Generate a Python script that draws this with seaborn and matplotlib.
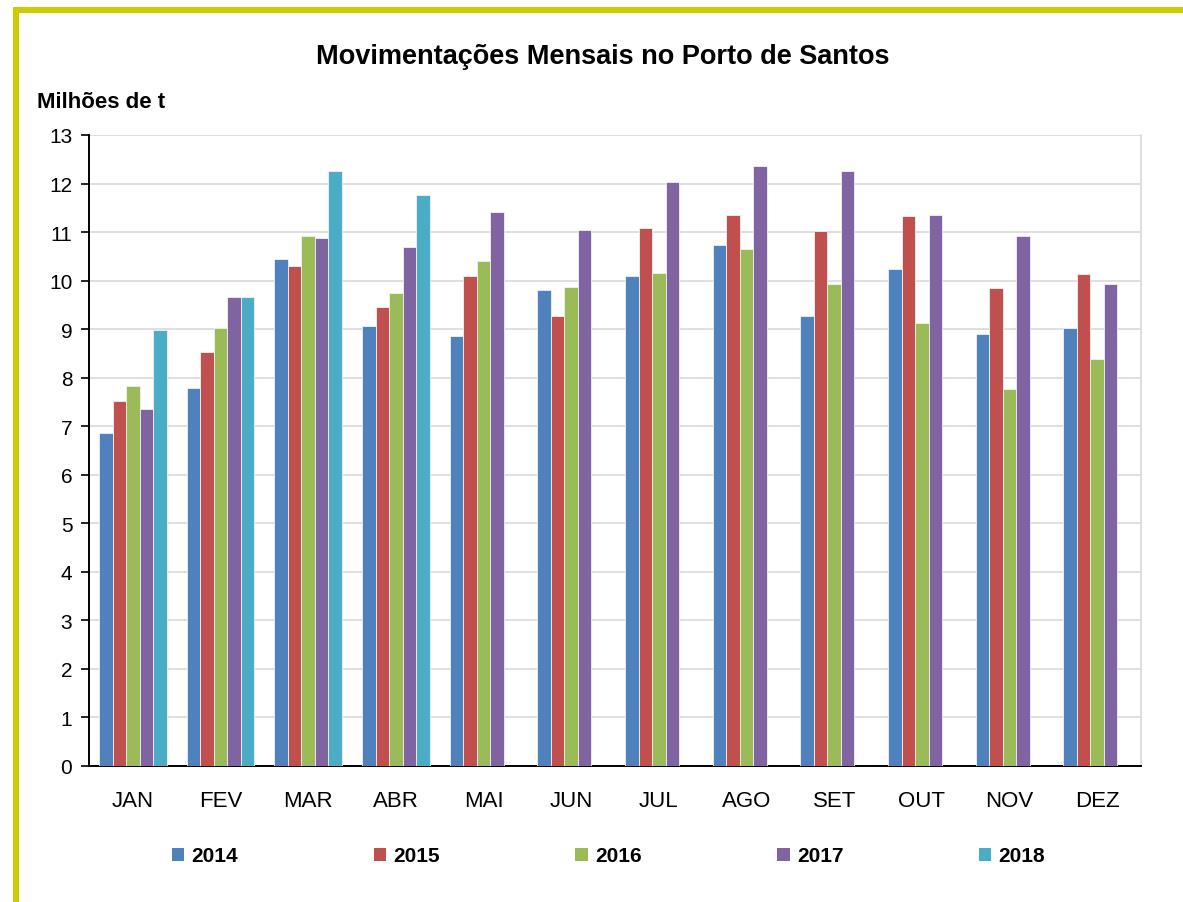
import matplotlib
matplotlib.use("Agg")
import matplotlib.pyplot as plt
import seaborn as sns
import pandas as pd
import numpy as np
from matplotlib.patches import Rectangle, Patch

months = ["JAN", "FEV", "MAR", "ABR", "MAI", "JUN", "JUL", "AGO", "SET", "OUT", "NOV", "DEZ"]
years = ["2014", "2015", "2016", "2017", "2018"]
v2014 = [6.87, 7.78, 10.45, 9.07, 8.85, 9.81, 10.10, 10.73, 9.28, 10.24, 8.89, 9.02]
v2015 = [7.51, 8.53, 10.30, 9.46, 10.10, 9.28, 11.09, 11.36, 11.02, 11.33, 9.85, 10.13]
v2016 = [7.82, 9.02, 10.91, 9.74, 10.41, 9.87, 10.16, 10.66, 9.92, 9.13, 7.76, 8.39]
v2017 = [7.36, 9.67, 10.87, 10.70, 11.41, 11.05, 12.04, 12.36, 12.25, 11.36, 10.91, 9.92]
v2018 = [8.99, 9.67, 12.25, 11.76]
colors = ["#4F81BD", "#C0504D", "#9BBB59", "#8064A2", "#4BACC6"]
yticks = list(range(0, 14))

rows = []
for yr, vals in zip(years, [v2014, v2015, v2016, v2017, v2018]):
    for m, v in zip(months, vals):
        rows.append({"Mes": m, "Ano": yr, "Valor": v})
df = pd.DataFrame(rows)

sns.set_style("white")
plt.rcParams["font.family"] = ["Liberation Sans", "DejaVu Sans"]
plt.rcParams["text.color"] = "black"
plt.rcParams["xtick.color"] = "black"
plt.rcParams["ytick.color"] = "black"
plt.rcParams["axes.labelcolor"] = "black"

fig = plt.figure(figsize=(11.83, 9.03), dpi=100)
ax = fig.add_axes([89 / 1183, 1 - 767 / 903, (1141 - 89) / 1183, (767 - 136) / 903])

sns.barplot(data=df, x="Mes", y="Valor", hue="Ano", order=months, hue_order=years,
            palette=colors, saturation=1, errorbar=None, width=0.77, dodge=True, ax=ax,
            edgecolor="#F2F2F2", linewidth=0.6, legend=False, zorder=3)

ax.set_ylim(0, 13)
ax.set_xlim(-0.5, 11.5)
ax.set_yticks(yticks)
ax.set_yticklabels([str(t) for t in yticks], fontsize=15)
ax.yaxis.grid(True, color="#D9D9D9", linewidth=1.2, zorder=0)
ax.set_axisbelow(True)
ax.set_xlabel("")
ax.set_ylabel("")

ax.set_xticks(range(12))
ax.set_xticklabels(months, fontsize=16)
ax.set_xticks(np.arange(-0.5, 12, 1), minor=True)
ax.tick_params(axis="x", which="major", length=0, pad=17)
ax.tick_params(axis="x", which="minor", length=6, width=1.2, color="black", direction="out")
ax.tick_params(axis="y", which="major", length=6, width=1.2, color="black", direction="out", pad=6, left=True)

for s in ["left", "bottom"]:
    ax.spines[s].set_color("black")
    ax.spines[s].set_linewidth(1.4)
ax.spines["right"].set_color("#D9D9D9")
ax.spines["right"].set_linewidth(1.2)
ax.spines["top"].set_visible(False)

fig.text(603 / 1183, 1 - 57 / 903, "Movimentações Mensais no Porto de Santos",
         ha="center", va="center", fontsize=19.5, fontweight="bold")
fig.text(37 / 1183, 1 - 102 / 903, "Milhões de t", ha="left", va="center",
         fontsize=16, fontweight="bold")

handles = [Patch(facecolor=c, edgecolor="none", label=y) for c, y in zip(colors, years)]
leg = fig.legend(handles=handles, loc="center left", bbox_to_anchor=(153 / 1183, 1 - 857 / 903),
                 ncol=5, frameon=False, handlelength=0.6, handleheight=0.6, handletextpad=0.35,
                 columnspacing=6.5, prop={"weight": "bold", "size": 15})

# yellow border (left and top)
ycol = "#CCCC00"
fig.patches.append(Rectangle((13 / 1183, 0), 6 / 1183, (903 - 8) / 903,
                             transform=fig.transFigure, facecolor=ycol, edgecolor="none"))
fig.patches.append(Rectangle((13 / 1183, (903 - 14) / 903), 1 - 13 / 1183, 6 / 903,
                             transform=fig.transFigure, facecolor=ycol, edgecolor="none"))

fig.savefig("out.png", dpi=100)
